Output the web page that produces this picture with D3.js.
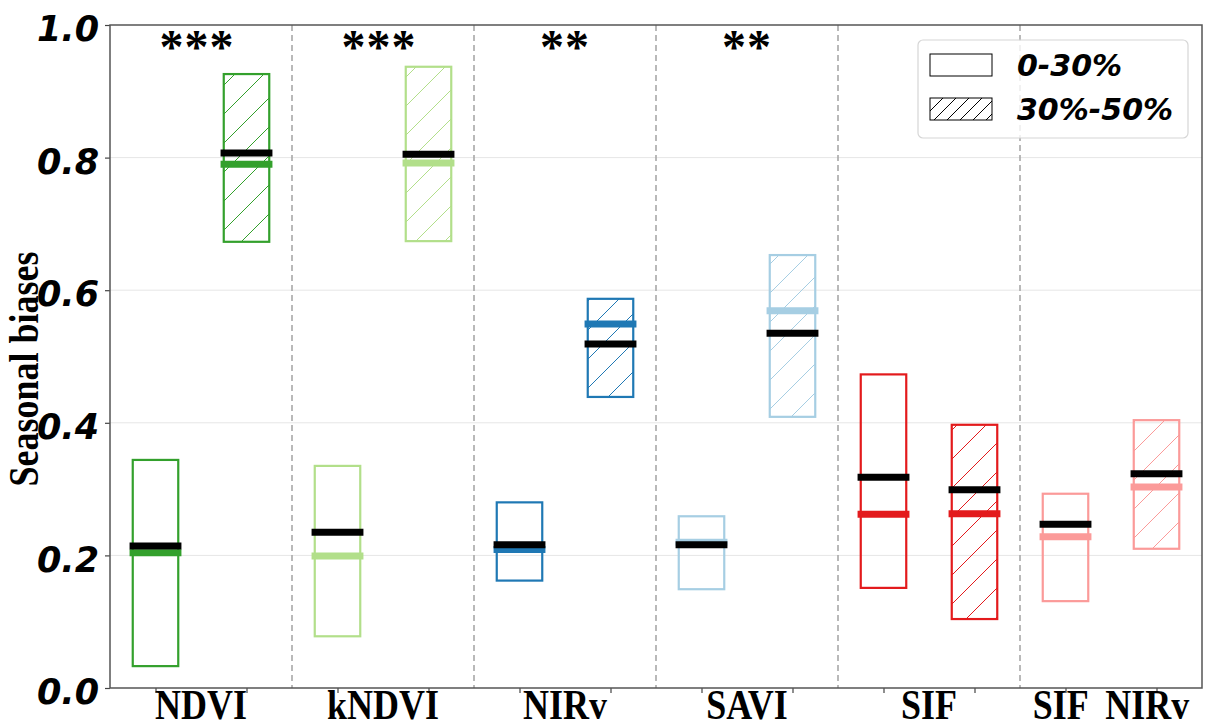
<!DOCTYPE html>
<html>
<head>
<meta charset="utf-8">
<script src="https://cdn.jsdelivr.net/npm/d3@7"></script>
<style>
  body { margin: 0; background: #fff; }
  svg { display: block; }
</style>
</head>
<body>
<svg width="1207" height="724"></svg>
<script>
// categories and the two cloud-cover groups
var categories = ["NDVI", "kNDVI", "NIRv", "SAVI", "SIF", "SIF  NIRv"];
var groups = ["0-30%", "30%-50%"];
var colors = ["#33a02c", "#b2df8a", "#1f78b4", "#a6cee3", "#e31a1c", "#fb9a99"];
var stars = ["***", "***", "**", "**", "", ""];

// [0-30%, 30%-50%] for each category
var boxLow  = [[0.033, 0.673], [0.078, 0.674], [0.162, 0.439], [0.149, 0.409], [0.151, 0.104], [0.131, 0.210]];
var boxHigh = [[0.344, 0.926], [0.335, 0.937], [0.280, 0.587], [0.259, 0.653], [0.473, 0.397], [0.293, 0.404]];
var medianVals = [[0.204, 0.790], [0.199, 0.792], [0.209, 0.549], [0.220, 0.569], [0.262, 0.263], [0.228, 0.303]];
var meanVals   = [[0.214, 0.807], [0.235, 0.805], [0.216, 0.519], [0.216, 0.535], [0.318, 0.299], [0.247, 0.323]];

var yTicks = [0, 0.2, 0.4, 0.6, 0.8, 1.0];

var svg = d3.select("svg"),
    margin = {top: 25, right: 5, bottom: 36, left: 110},
    width = +svg.attr("width") - margin.left - margin.right,
    height = +svg.attr("height") - margin.top - margin.bottom;

var nBox = categories.length * groups.length;
var x = d3.scaleLinear().domain([-0.5, nBox - 0.5]).range([0, width]);
var y = d3.scaleLinear().domain([0, 1]).range([height, 0]);

var defs = svg.append("defs");
var hatchStep = 29;
colors.forEach(function(c, i) {
    var p = defs.append("pattern")
        .attr("id", "hatch" + i)
        .attr("patternUnits", "userSpaceOnUse")
        .attr("width", hatchStep).attr("height", hatchStep);
    p.append("path")
        .attr("d", "M0," + hatchStep + "L" + hatchStep + ",0M-3,3L3,-3M" + (hatchStep - 3) + "," + (hatchStep + 3) + "L" + (hatchStep + 3) + "," + (hatchStep - 3))
        .attr("stroke", c).attr("stroke-width", 1).attr("fill", "none");
});
var lp = defs.append("pattern")
    .attr("id", "hatchLegend")
    .attr("patternUnits", "userSpaceOnUse")
    .attr("width", 13).attr("height", 13);
lp.append("path")
    .attr("d", "M0,13L13,0M-3,3L3,-3M10,16L16,10")
    .attr("stroke", "#000").attr("stroke-width", 1).attr("fill", "none");

var g = svg.append("g").attr("transform", "translate(" + margin.left + "," + margin.top + ")");

// horizontal grid
g.append("g").selectAll("line")
    .data(yTicks.filter(function(d) { return d > 0 && d < 1; }))
    .enter().append("line")
    .attr("x1", 0).attr("x2", width)
    .attr("y1", function(d) { return y(d); })
    .attr("y2", function(d) { return y(d); })
    .attr("stroke", "#e6e6e6").attr("stroke-width", 1);

// dashed separators between categories
g.append("g").selectAll("line")
    .data(d3.range(1, categories.length))
    .enter().append("line")
    .attr("x1", function(d) { return x(d * 2 - 0.5); })
    .attr("x2", function(d) { return x(d * 2 - 0.5); })
    .attr("y1", 0).attr("y2", height)
    .attr("stroke", "#a8a8a8").attr("stroke-width", 1.6)
    .attr("stroke-dasharray", "6,4");

// flatten into one record per box
var boxes = [];
categories.forEach(function(c, i) {
    groups.forEach(function(grp, j) {
        boxes.push({cat: i, grp: j, pos: i * 2 + j,
            lo: boxLow[i][j], hi: boxHigh[i][j],
            med: medianVals[i][j], mean: meanVals[i][j]});
    });
});

var boxW = 0.5, lineW = 0.57;

var bg = g.append("g").selectAll("g")
    .data(boxes)
    .enter().append("g");

bg.append("rect")
    .attr("x", function(d) { return x(d.pos - boxW / 2); })
    .attr("width", x(boxW) - x(0))
    .attr("y", function(d) { return y(d.hi); })
    .attr("height", function(d) { return y(d.lo) - y(d.hi); })
    .attr("fill", function(d) { return d.grp === 1 ? "url(#hatch" + d.cat + ")" : "none"; })
    .attr("stroke", function(d) { return colors[d.cat]; })
    .attr("stroke-width", 2.2);

bg.append("line")
    .attr("x1", function(d) { return x(d.pos - lineW / 2); })
    .attr("x2", function(d) { return x(d.pos + lineW / 2); })
    .attr("y1", function(d) { return y(d.med); })
    .attr("y2", function(d) { return y(d.med); })
    .attr("stroke", function(d) { return colors[d.cat]; })
    .attr("stroke-width", 7);

bg.append("line")
    .attr("x1", function(d) { return x(d.pos - lineW / 2); })
    .attr("x2", function(d) { return x(d.pos + lineW / 2); })
    .attr("y1", function(d) { return y(d.mean); })
    .attr("y2", function(d) { return y(d.mean); })
    .attr("stroke", "#000")
    .attr("stroke-width", 7);

// significance stars
g.append("g").selectAll("text")
    .data(stars)
    .enter().append("text")
    .attr("x", function(d, i) { return x(i * 2 + 0.5) - (d.length === 3 ? 4 : 0); })
    .attr("y", 38)
    .attr("text-anchor", "middle")
    .style("font-family", "Liberation Serif")
    .style("font-weight", "bold")
    .style("font-size", "48px")
    .style("letter-spacing", "1px")
    .text(function(d) { return d; });

// axes
var yAxis = g.append("g")
    .call(d3.axisLeft(y).tickValues(yTicks).tickSize(5).tickPadding(6).tickFormat(d3.format(".1f")));
yAxis.select(".domain").remove();
yAxis.selectAll(".tick line").attr("stroke", "#444").attr("stroke-width", 1.2);
yAxis.selectAll(".tick text")
    .attr("dy", "0.45em")
    .style("font-family", "DejaVu Sans")
    .style("font-weight", "bold")
    .style("font-style", "italic")
    .style("font-size", "35px")
    .attr("fill", "#000");

var xAxis = g.append("g")
    .attr("transform", "translate(0," + height + ")")
    .call(d3.axisBottom(x).tickValues(d3.range(nBox)).tickSize(5).tickFormat(""));
xAxis.select(".domain").remove();
xAxis.selectAll(".tick line").attr("stroke", "#444").attr("stroke-width", 1.2);

// category labels at group centres
g.append("g").selectAll("text")
    .data(categories)
    .enter().append("text")
    .attr("transform", function(d, i) {
        return "translate(" + x(i * 2 + 0.5) + "," + (height + 31) + ") scale(1,1.18)";
    })
    .attr("text-anchor", "middle")
    .style("white-space", "pre")
    .style("font-family", "Liberation Serif")
    .style("font-weight", "bold")
    .style("font-size", "36px")
    .text(function(d) { return d; });

// frame
g.append("rect")
    .attr("width", width).attr("height", height)
    .attr("fill", "none")
    .attr("stroke", "#555").attr("stroke-width", 1.5);

// y label
svg.append("text")
    .attr("transform", "translate(38,369) rotate(-90) scale(1,1.15)")
    .attr("text-anchor", "middle")
    .style("font-family", "Liberation Serif")
    .style("font-weight", "bold")
    .style("font-size", "36px")
    .text("Seasonal biases");

// legend
var leg = svg.append("g").attr("transform", "translate(918,40)");
leg.append("rect")
    .attr("width", 270).attr("height", 98)
    .attr("rx", 5)
    .attr("fill", "#fff").attr("fill-opacity", 0.8)
    .attr("stroke", "#d6d6d6").attr("stroke-width", 1.2);
var items = leg.selectAll(".item")
    .data(groups)
    .enter().append("g")
    .attr("transform", function(d, i) { return "translate(12," + (14 + i * 44) + ")"; });
items.append("rect")
    .attr("width", 62).attr("height", 22)
    .attr("fill", function(d, i) { return i === 1 ? "url(#hatchLegend)" : "#fff"; })
    .attr("stroke", "#000").attr("stroke-width", 1);
items.append("text")
    .attr("x", 87).attr("y", 22)
    .style("font-family", "DejaVu Sans")
    .style("font-weight", "bold")
    .style("font-style", "italic")
    .style("font-size", "30px")
    .text(function(d) { return d; });
</script>
</body>
</html>
